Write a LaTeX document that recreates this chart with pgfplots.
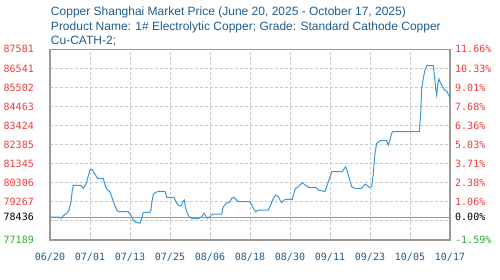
\documentclass[border=0pt]{standalone}
\usepackage{fontspec}
\setmainfont{Liberation Sans}
\newfontfamily\mono{DejaVu Sans Mono}
\usepackage{pgfplots}
\pgfplotsset{compat=1.18}
\definecolor{ttl}{HTML}{1E5C8E}
\definecolor{lred}{HTML}{F23A3A}
\definecolor{lgreen}{HTML}{33AA33}
\definecolor{lineblue}{HTML}{3A97D8}
\definecolor{gridc}{HTML}{C8C8C8}
\definecolor{borderc}{HTML}{999999}
\begin{document}
\begin{tikzpicture}
\path[use as bounding box] (-50pt,-39pt) rectangle (450pt,240pt);
\begin{axis}[
  at={(0pt,0pt)}, anchor=south west,
  scale only axis, width=400pt, height=190.7pt,
  xmin=0, xmax=400, ymin=77189, ymax=87581,
  scaled y ticks=false, scaled x ticks=false,
  xtick={0,40,...,400},
  xticklabels={06/20,07/01,07/13,07/25,08/06,08/18,08/30,09/11,09/23,10/05,10/17},
  ytick={77189,78228.2,79267.4,80306.6,81345.8,82385,83424.2,84463.4,85502.6,86541.8,87581},
  yticklabels={\textcolor{lgreen}{77189},{},\textcolor{lred}{79267},\textcolor{lred}{80306},\textcolor{lred}{81345},\textcolor{lred}{82385},\textcolor{lred}{83424},\textcolor{lred}{84463},\textcolor{lred}{85502},\textcolor{lred}{86541},\textcolor{lred}{87581}},
  extra y ticks={78436},
  extra y tick labels={78436},
  extra y tick style={major grid style={solid,draw=borderc,line width=1.2pt}},
  xmajorgrids, ymajorgrids,
  major grid style={draw=gridc,line width=0.9pt,dash pattern=on 3pt off 2pt},
  major tick length=0pt,
  axis line style={draw=borderc,line width=1.2pt},
  xticklabel style={font=\mono\fontsize{10}{12}\selectfont,text=ttl,inner sep=0pt,anchor=north,yshift=-12.5pt},
  yticklabel style={font=\mono\fontsize{10}{12}\selectfont,inner sep=0pt,anchor=east,xshift=-16pt},
]
\addplot[lineblue, line width=1pt, mark=none] coordinates {
(0,78436) (9,78436) (11,78371) (13,78496) (16.7,78643) (19,78823) (21,79275)
(22.3,79913) (23.3,80169) (31,80169) (33.3,80006) (36,80240) (38.3,80676)
(40,81003) (42,81041) (44.3,80823) (47.7,80551) (53.3,80551) (55,80185)
(57.3,79913) (60,79820) (61.7,79548) (64,79188) (66.7,78823) (68.3,78730)
(78.3,78730) (80.7,78550) (83.3,78278) (86,78153) (90,78098) (91.7,78371)
(93.3,78698) (100,78698) (101,78823) (101.7,79188) (103.3,79679) (105.7,79788)
(109,79842) (115,79842) (116.7,79515) (124,79515) (126.7,79188) (129,79057)
(131,79041) (132.7,79275) (134.3,79368) (135.3,79003) (137.3,78643) (139.3,78458)
(141.7,78371) (149,78371) (151.7,78458) (154,78643) (156,78496) (157.3,78371)
(160,78458) (162.7,78605) (171.7,78605) (173.3,79003) (176,79188) (179.3,79243)
(181.7,79461) (184,79515) (187.3,79313) (189.3,79275) (200,79275) (201.7,79095)
(204,78861) (205.7,78730) (208.3,78823) (218.3,78823) (220.7,79095) (223.3,79461)
(225.7,79640) (228.3,79548) (230,79368) (231.7,79221) (233.3,79330) (235.3,79406)
(242.3,79406) (244.3,79820) (245.7,80006) (248.3,80093) (250.7,80224) (252.7,80311)
(255,80185) (258.3,80060) (265.7,80060) (268.3,79913) (271.7,79875) (275,79820)
(276.7,80093) (278.3,80365) (280.7,80730) (281.7,80910) (291.7,80910) (293.3,81003)
(295.7,81183) (297.3,80910) (299.3,80551) (301.7,80093) (305,80006) (311.7,80006)
(315,80240) (316.7,80185) (319.3,80060) (321.7,80093) (323.3,80823) (325,81913)
(326.7,82458) (330,82600) (336.7,82600) (338.3,82365) (340,82638) (341.7,83003)
(342.7,83101) (369.3,83101) (370.7,84093) (371.7,85456) (373.3,86001) (375,86453)
(376.7,86698) (383.3,86698) (384.3,86180) (385.7,85456) (386.7,85090) (387.7,85635)
(389,85962) (390.7,85728) (392.7,85543) (394.3,85363) (396.7,85308) (400,84943)
};
\end{axis}
\begin{axis}[
  at={(0pt,0pt)}, anchor=south west,
  scale only axis, width=400pt, height=190.7pt,
  xmin=0, xmax=400, ymin=77189, ymax=87581,
  scaled y ticks=false,
  axis x line=none, axis y line*=right,
  axis line style={draw=none},
  major tick length=0pt,
  ytick={77189,78228.2,79267.4,80306.6,81345.8,82385,83424.2,84463.4,85502.6,86541.8,87581},
  yticklabels={\textcolor{lgreen}{-1.59\%},{},\textcolor{lred}{1.06\%},\textcolor{lred}{2.38\%},\textcolor{lred}{3.71\%},\textcolor{lred}{5.03\%},\textcolor{lred}{6.36\%},\textcolor{lred}{7.68\%},\textcolor{lred}{9.01\%},\textcolor{lred}{10.33\%},\textcolor{lred}{11.66\%}},
  extra y ticks={78436},
  extra y tick labels={0.00\%},
  yticklabel style={font=\mono\fontsize{10}{12}\selectfont,inner sep=0pt,anchor=west,xshift=5pt},
]
\addplot[draw=none, forget plot] coordinates {(0,78436) (400,78436)};
\end{axis}
\begin{scope}[every node/.style={inner sep=0pt,anchor=base west,text=ttl,font=\fontsize{12}{14}\selectfont}]
\node at (0.8pt,224pt) {Copper Shanghai Market Price (June 20, 2025 - October 17, 2025)};
\node at (0.8pt,209.8pt) {Product Name: 1\# Electrolytic Copper; Grade: Standard Cathode Copper};
\node at (0.8pt,195.7pt) {Cu-CATH-2;};
\end{scope}
\end{tikzpicture}
\end{document}
